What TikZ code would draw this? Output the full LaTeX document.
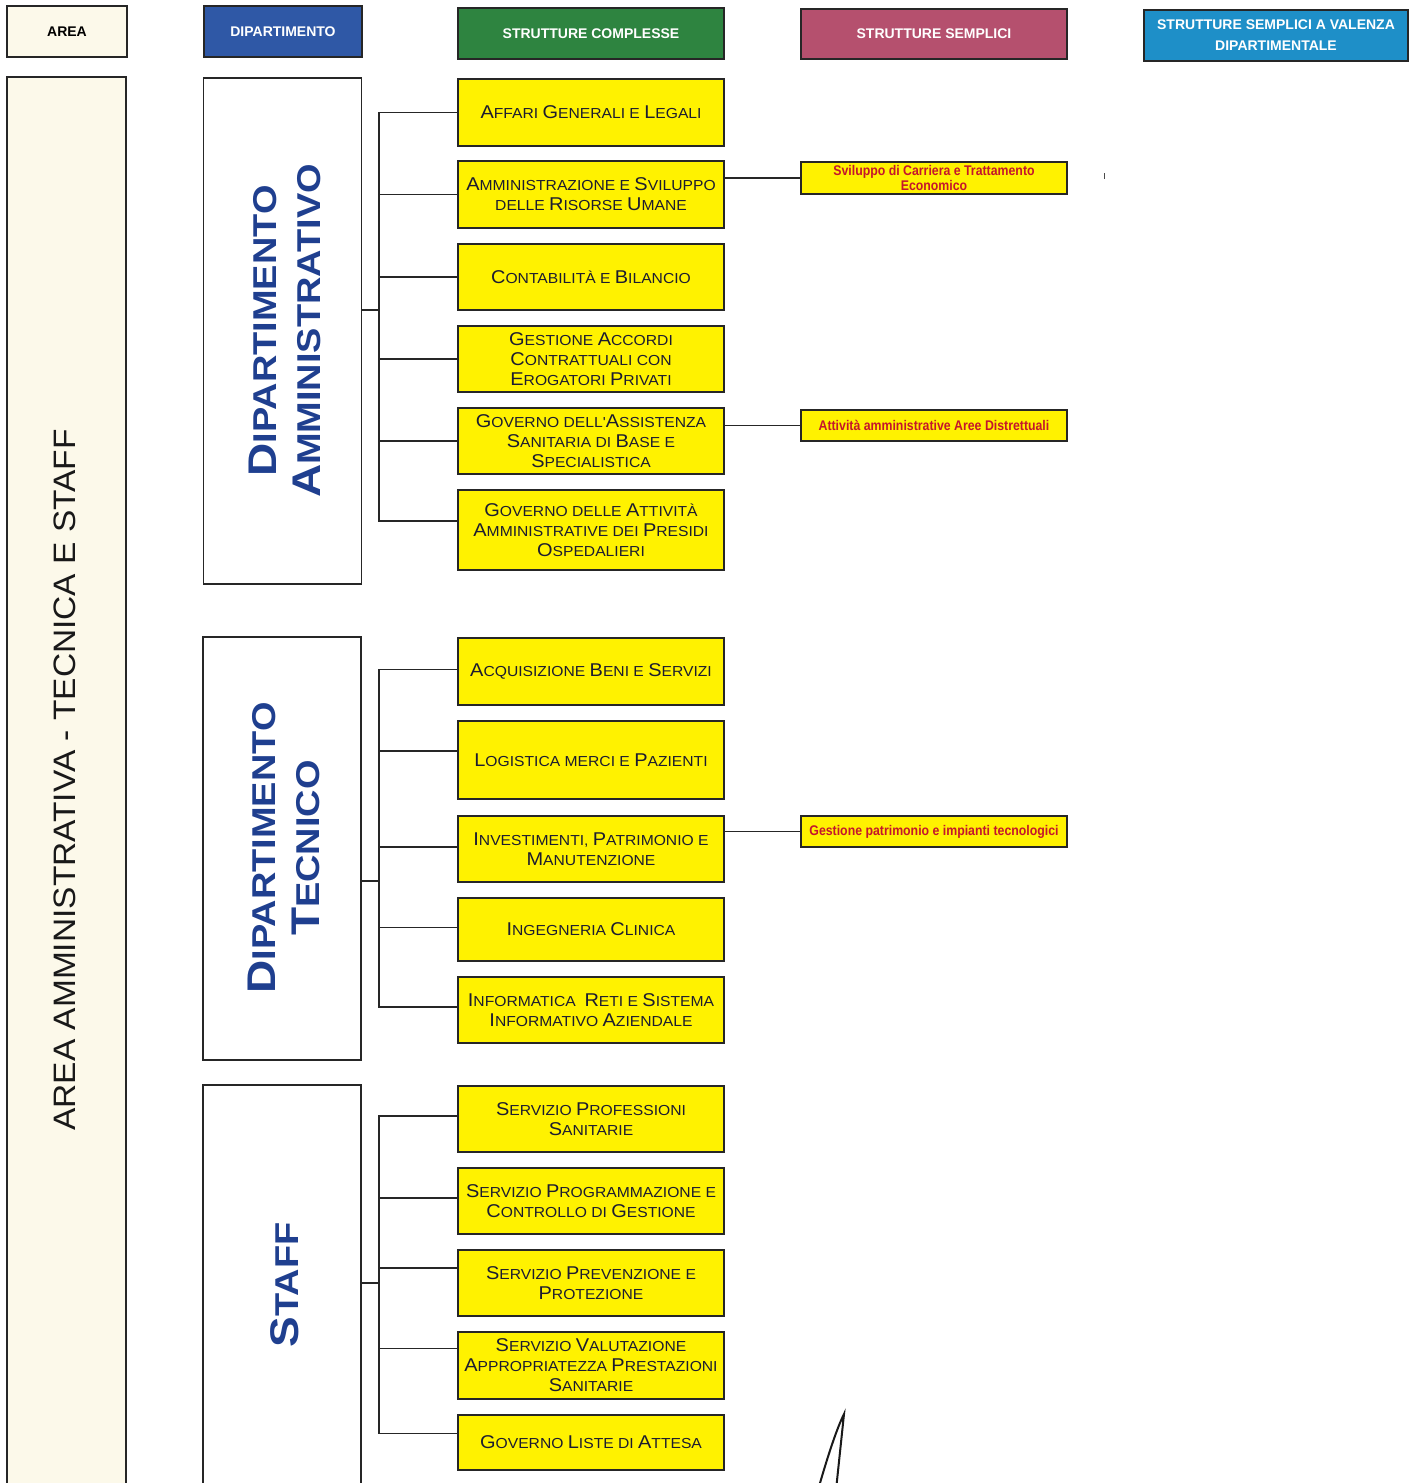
\documentclass[tikz,border=0pt]{standalone}
\usepackage{fontspec}
\setmainfont{Liberation Sans}
\newfontfamily\widefont[FakeStretch=1.08]{Liberation Sans}
\newfontfamily\deptfont[FakeStretch=1.15]{Liberation Sans}
\newfontfamily\narrowfont[FakeStretch=0.88]{Liberation Sans}
\definecolor{ybox}{HTML}{FFF200}
\definecolor{cream}{HTML}{FCF9EA}
\definecolor{hblue}{HTML}{2F58A6}
\definecolor{hgreen}{HTML}{2E8440}
\definecolor{hrose}{HTML}{B5506E}
\definecolor{hcyan}{HTML}{1E8FC8}
\definecolor{deptblue}{HTML}{1F3F8F}
\definecolor{boxtext}{HTML}{1C1C30}
\definecolor{semred}{HTML}{C4162C}
% fake small caps: a larger initial capital
\newcommand\K[1]{{\fontsize{18.5}{18.5}\selectfont #1}}
\newcommand\Dk[1]{{\fontsize{40}{40}\selectfont #1}}
\tikzset{
  frame/.style={draw=black!85, line width=1.3pt},
  hdr/.style={frame, inner sep=0pt, align=center, text=white,
    font=\bfseries\fontsize{14}{21}\selectfont},
  cbox/.style={frame, fill=ybox, minimum width=266pt, inner sep=0pt,
    align=center, text=boxtext, font=\widefont\fontsize{14.5}{20}\selectfont},
  sbox/.style={frame, fill=ybox, minimum width=266pt, minimum height=31pt,
    inner sep=0pt, align=center, text=semred,
    font=\narrowfont\bfseries\fontsize{14}{18}\selectfont},
  deptbox/.style={frame, fill=white, minimum width=158pt},
  depttext/.style={rotate=90, align=center, text=deptblue,
    font=\deptfont\bfseries\fontsize{33}{44}\selectfont},
  link/.style={draw=black!85, line width=1.2pt},
}
\begin{document}
\begin{tikzpicture}[x=1pt,y=-1pt]
\useasboundingbox (0,0) rectangle (1417,1483);
\begin{scope}
\clip (0,0) rectangle (1417,1483);

% column headers
\node[hdr, fill=cream, text=black, minimum width=120pt, minimum height=51pt] (hArea) at (67,31.5) {AREA};
\node[hdr, fill=hblue, minimum width=158pt, minimum height=51pt] (hDip) at (283,31.5) {DIPARTIMENTO};
\node[hdr, fill=hgreen, minimum width=266pt, minimum height=51pt] (hCompl) at (591,33.5) {STRUTTURE COMPLESSE};
\node[hdr, fill=hrose, minimum width=266pt, minimum height=50pt] (hSempl) at (934,34) {STRUTTURE SEMPLICI};
\node[hdr, fill=hcyan, minimum width=264pt, minimum height=51pt] (hVal) at (1276,35.5) {STRUTTURE SEMPLICI A VALENZA\\DIPARTIMENTALE};

% area column
\node[frame, fill=cream, minimum width=119pt, minimum height=1420pt] (area) at (66.5,787) {};
\node[rotate=90, font=\widefont\fontsize{31}{31}\selectfont, text=black!90] (areaT) at (65,780) {AREA AMMINISTRATIVA - TECNICA E STAFF};

% departments
\node[deptbox, minimum height=506pt] (dA) at (282.5,331) {};
\node[depttext] (dAT) at (285,331) {\Dk{D}IPARTIMENTO\\\Dk{A}MMINISTRATIVO};
\node[deptbox, minimum height=423pt] (dT) at (282,848.5) {};
\node[depttext] (dTT) at (284,848) {\Dk{D}IPARTIMENTO\\\Dk{T}ECNICO};
\node[deptbox, minimum height=420pt] (dS) at (282,1295) {};
\node[depttext] (dST) at (285,1285) {\Dk{S}TAFF};

% strutture complesse - dipartimento amministrativo
\node[cbox, minimum height=67pt] (a1) at (591,112.5) {\K{A}FFARI \K{G}ENERALI E \K{L}EGALI};
\node[cbox, minimum height=67pt] (a2) at (591,194.5) {\K{A}MMINISTRAZIONE E \K{S}VILUPPO\\DELLE \K{R}ISORSE \K{U}MANE};
\node[cbox, minimum height=66pt] (a3) at (591,277) {\K{C}ONTABILITÀ E \K{B}ILANCIO};
\node[cbox, minimum height=66pt] (a4) at (591,359) {\K{G}ESTIONE \K{A}CCORDI\\\K{C}ONTRATTUALI CON\\\K{E}ROGATORI \K{P}RIVATI};
\node[cbox, minimum height=66pt] (a5) at (591,441) {\K{G}OVERNO DELL'\K{A}SSISTENZA\\\K{S}ANITARIA DI \K{B}ASE E\\\K{S}PECIALISTICA};
\node[cbox, minimum height=80pt] (a6) at (591,530) {\K{G}OVERNO DELLE \K{A}TTIVITÀ\\\K{A}MMINISTRATIVE DEI \K{P}RESIDI\\\K{O}SPEDALIERI};

% strutture complesse - dipartimento tecnico
\node[cbox, minimum height=67pt] (b1) at (591,671.5) {\K{A}CQUISIZIONE \K{B}ENI E \K{S}ERVIZI};
\node[cbox, minimum height=78pt] (b2) at (591,760) {\K{L}OGISTICA MERCI E \K{P}AZIENTI};
\node[cbox, minimum height=66pt] (b3) at (591,849) {\K{I}NVESTIMENTI, \K{P}ATRIMONIO E\\\K{M}ANUTENZIONE};
\node[cbox, minimum height=63pt] (b4) at (591,929.5) {\K{I}NGEGNERIA \K{C}LINICA};
\node[cbox, minimum height=66pt] (b5) at (591,1010) {\K{I}NFORMATICA\ \ \K{R}ETI E \K{S}ISTEMA\\\K{I}NFORMATIVO \K{A}ZIENDALE};

% strutture complesse - staff
\node[cbox, minimum height=66pt] (c1) at (591,1119) {\K{S}ERVIZIO \K{P}ROFESSIONI\\\K{S}ANITARIE};
\node[cbox, minimum height=66pt] (c2) at (591,1201) {\K{S}ERVIZIO \K{P}ROGRAMMAZIONE E\\\K{C}ONTROLLO DI \K{G}ESTIONE};
\node[cbox, minimum height=66pt] (c3) at (591,1283) {\K{S}ERVIZIO \K{P}REVENZIONE E\\\K{P}ROTEZIONE};
\node[cbox, minimum height=67pt] (c4) at (591,1365.5) {\K{S}ERVIZIO \K{V}ALUTAZIONE\\\K{A}PPROPRIATEZZA \K{P}RESTAZIONI\\\K{S}ANITARIE};
\node[cbox, minimum height=55pt] (c5) at (591,1442.5) {\K{G}OVERNO \K{L}ISTE DI \K{A}TTESA};

% strutture semplici
\node[sbox, minimum height=32pt] (s1) at (934,178) {Sviluppo di Carriera e Trattamento\\[-3pt]Economico};
\node[sbox] (s2) at (934,425.5) {Attività amministrative Aree Distrettuali};
\node[sbox] (s3) at (934,831.5) {Gestione patrimonio e impianti tecnologici};

% bus lines
\coordinate (bus) at (379,0);
\draw[link] ([yshift=9pt]a6.west) -| (a1.west -| bus) -- (a1.west);
\foreach \n in {a2,a3,a4,a5} \draw[link] (\n.west) -- (\n.west -| bus);
\draw[link] ([yshift=21pt]dA.east) -- ([yshift=21pt]dA.east -| bus);

\draw[link] ([yshift=3pt]b5.west) -| ([yshift=2pt]b1.west -| bus) -- ([yshift=2pt]b1.west);
\draw[link] ([yshift=9pt]b2.west) -- ([yshift=9pt]b2.west -| bus);
\foreach \n in {b3,b4} \draw[link] ([yshift=2pt]\n.west) -- ([yshift=2pt]\n.west -| bus);
\draw[link] ([yshift=-32.5pt]dT.east) -- ([yshift=-32.5pt]dT.east -| bus);

\draw[link] ([yshift=9pt]c5.west) -| ([yshift=3pt]c1.west -| bus) -- ([yshift=3pt]c1.west);
\draw[link] ([yshift=3pt]c2.west) -- ([yshift=3pt]c2.west -| bus);
\draw[link] ([yshift=15pt]c3.west) -- ([yshift=15pt]c3.west -| bus);
\draw[link] ([yshift=17pt]c4.west) -- ([yshift=17pt]c4.west -| bus);
\draw[link] ([yshift=12pt]dS.east) -- ([yshift=12pt]dS.east -| bus);

% links to strutture semplici
\draw[link] (s1.west) -- (s1.west -| a2.east);
\draw[link] (s2.west) -- (s2.west -| a5.east);
\draw[link] (s3.west) -- (s3.west -| b3.east);

% pen marks
\draw[line width=0.8pt, black!70] (1104,173) -- (1104,179);
\draw[line width=2pt, black!90, line cap=round] (818,1490) .. controls (828,1455) and (837,1428) .. (844,1414) -- (836,1490);
\end{scope}
\end{tikzpicture}
\end{document}
